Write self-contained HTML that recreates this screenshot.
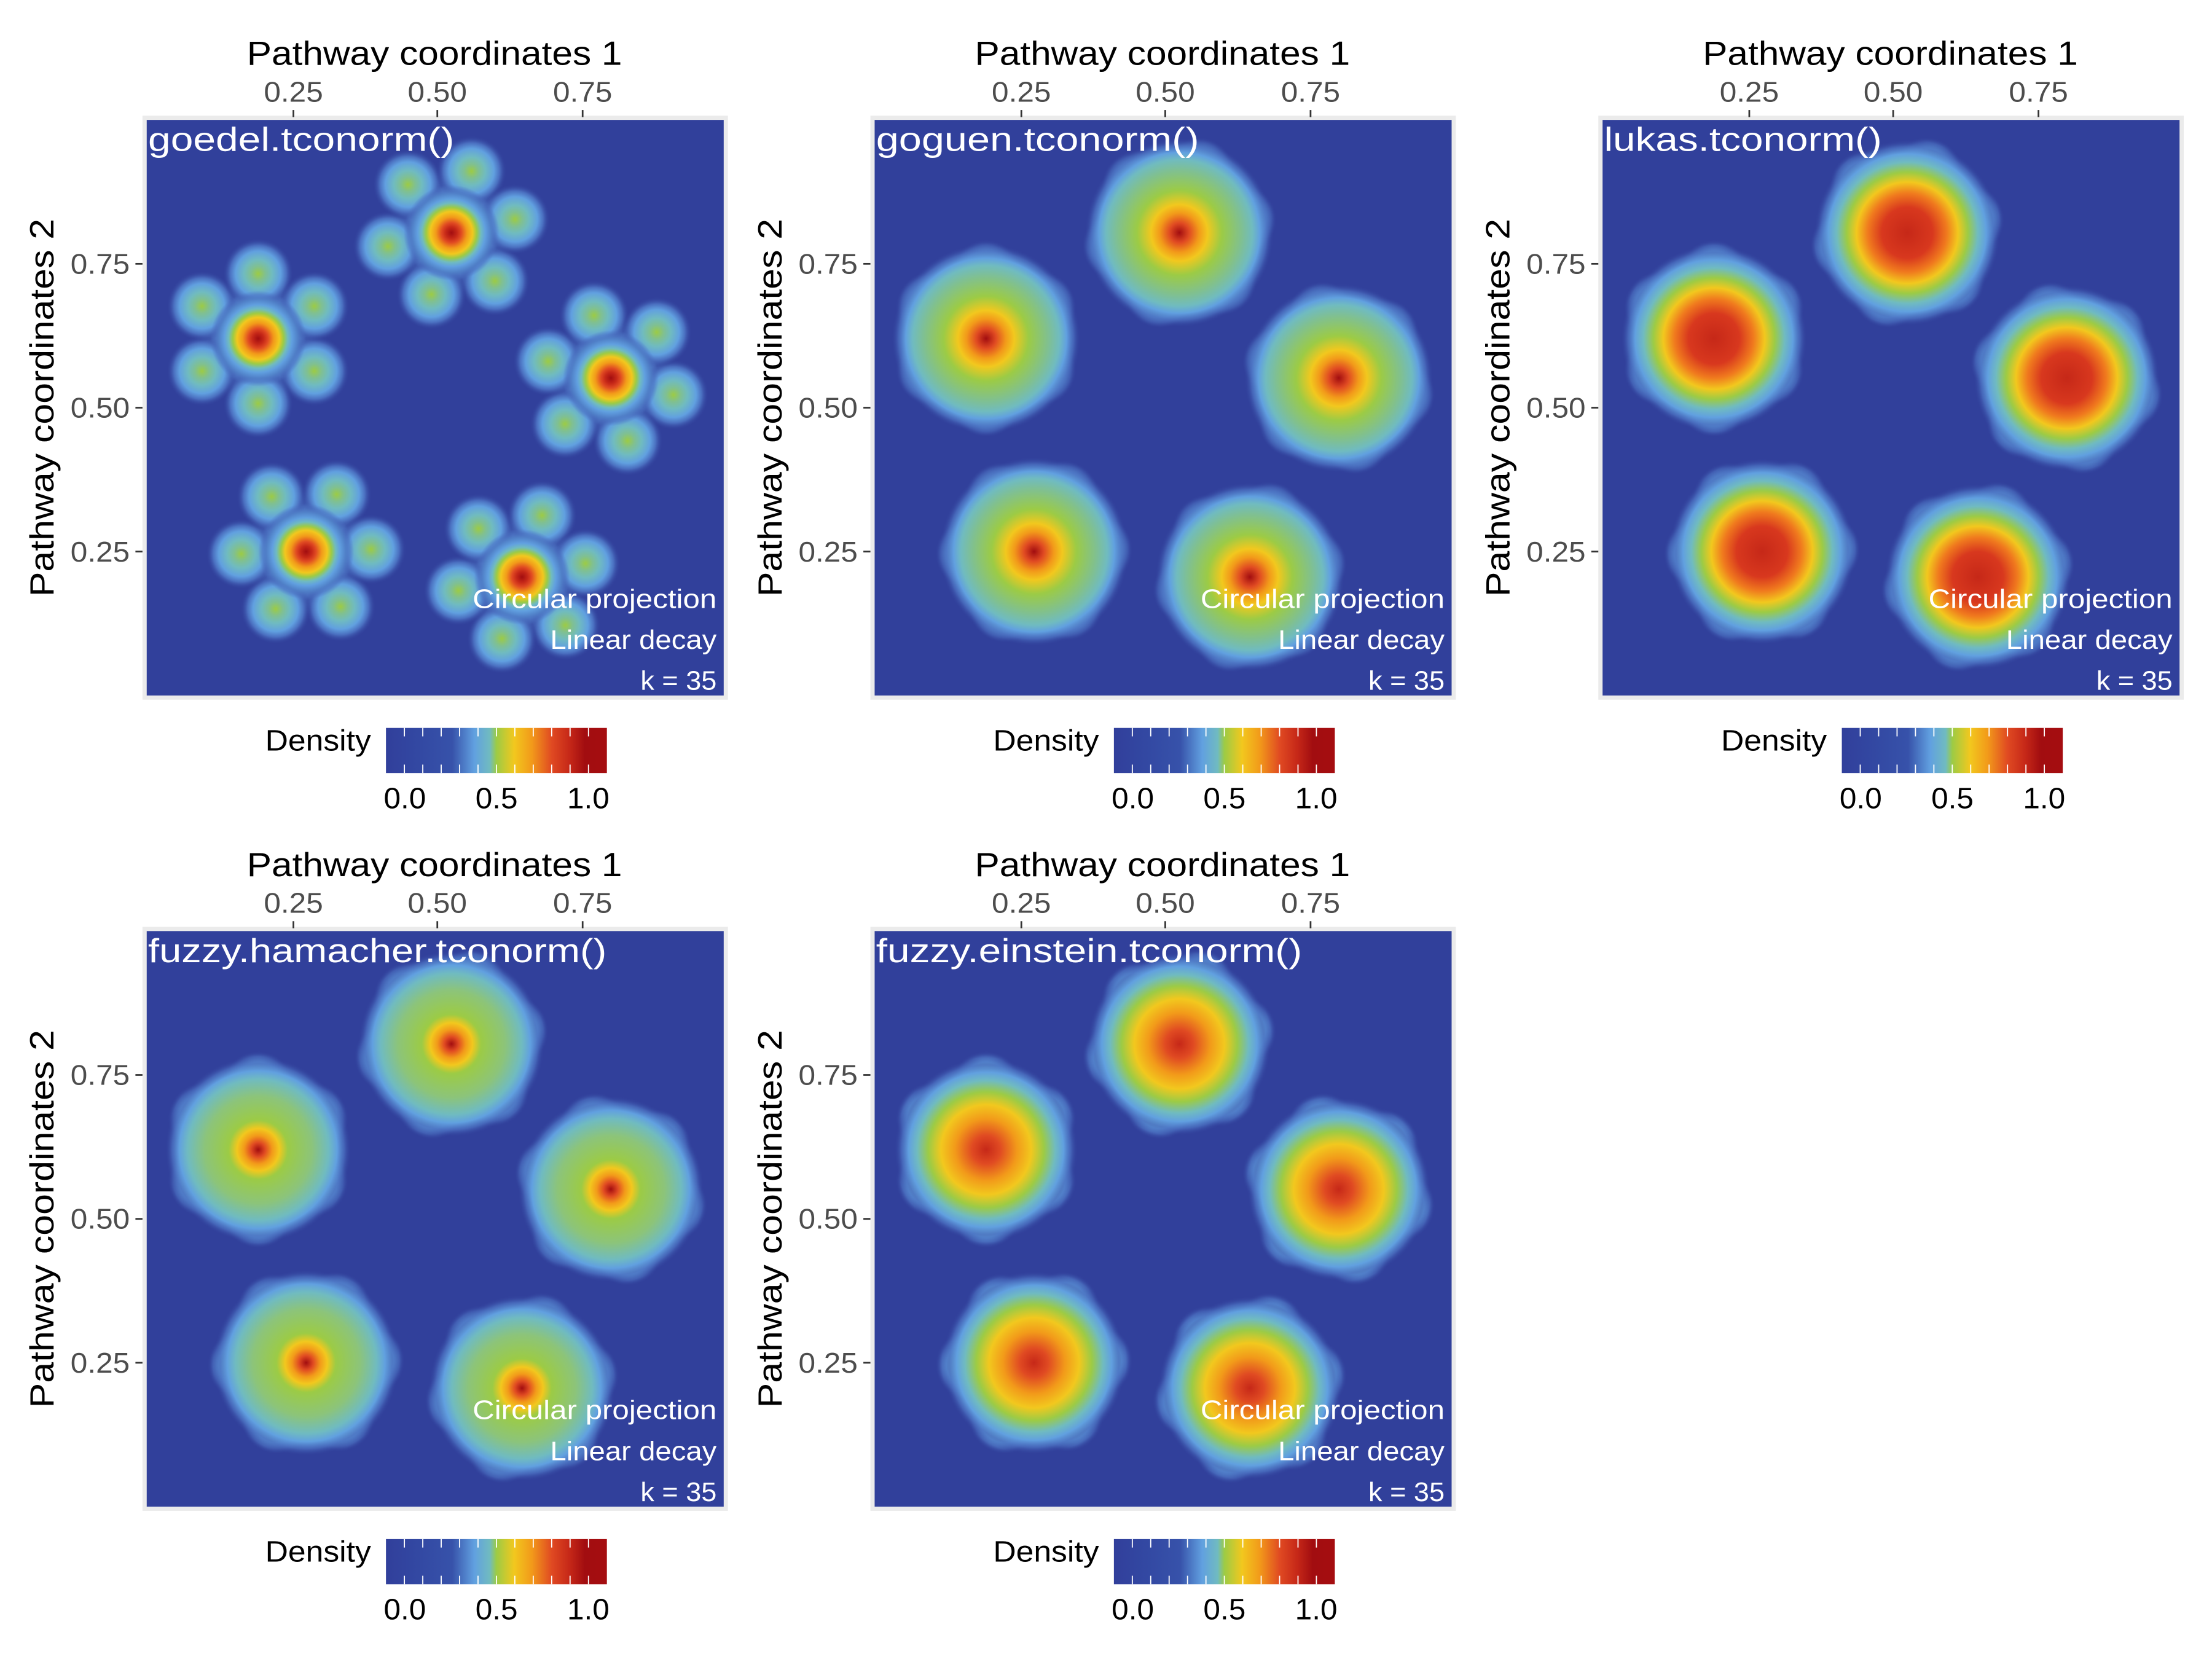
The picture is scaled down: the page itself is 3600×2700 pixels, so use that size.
<!DOCTYPE html><html><head><meta charset="utf-8"><style>html,body{margin:0;padding:0;background:#fff}svg{display:block}text{font-family:"Liberation Sans",sans-serif}</style></head><body>
<svg id="s" xmlns="http://www.w3.org/2000/svg" width="3600" height="2700" viewBox="0 0 1568 1176"></svg>
<script>
const S=document.getElementById('s');let h='';
const BG='#31409B';
const grads={
goedel:[[0,'#A20D10'],[4,'#C62818'],[7,'#E04A22'],[11,'#F29A1A'],[15,'#F2C81E'],[18,'#9CCB45'],[21,'#70BBC0'],[24,'#61A0E0'],[28,'#5080C8'],[31,'#4A70C0',0.6],[34,'#4A70C0',0]],
halo:[[0,'#4A6FC0'],[30,'#4A6FC0'],[38,'#3E5CB0',0.7],[46,BG,0]],
goguen:[[0,'#A20D10'],[7,'#E04A22'],[14,'#F29A1A'],[20,'#F2C81E'],[30,'#9CCB45'],[44,'#80C090'],[52,'#70BBC0'],[57,'#61A0E0'],[62,'#4A6FC0',0.8],[67,BG,0]],
lukas:[[0,'#C62818'],[18,'#D8381E'],[28,'#F07A1E'],[36,'#F2C81E'],[43,'#9CCB45'],[50,'#70BBC0'],[56,'#61A0E0'],[61,'#4A6FC0',0.8],[66,BG,0]],
ham:[[0,'#A20D10'],[5,'#E04A22'],[10,'#F29A1A'],[15,'#F2C81E'],[21,'#9CCB45'],[38,'#8CC47A'],[50,'#70BBC0'],[56,'#61A0E0'],[61,'#4A6FC0',0.8],[66,BG,0]],
ein:[[0,'#C62818'],[10,'#E04A22'],[22,'#F29A1A'],[32,'#F2C81E'],[41,'#9CCB45'],[49,'#70BBC0'],[55,'#61A0E0'],[60,'#4A6FC0',0.8],[65,BG,0]],
sat:[[0,'#9CCB45'],[5,'#80C090'],[10,'#70BBC0'],[16,'#61A0E0'],[20,'#4A6FC0'],[25,BG,0]],
sat2:[[0,'#9CCB45'],[8,'#80C090'],[13,'#70BBC0'],[18,'#61A0E0'],[22,'#4A6FC0',0.7],[26,BG,0]]
};
let defs='<defs>';
for(const k in grads){const g=grads[k];const R=g[g.length-1][0];
defs+=`<radialGradient id="g_${k}" cx="0.5" cy="0.5" r="0.5">`+g.map(s=>`<stop offset="${(s[0]/R).toFixed(3)}" stop-color="${s[1]}" stop-opacity="${s[2]===undefined?1:s[2]}"/>`).join('')+'</radialGradient>';}
defs+=`<linearGradient id="cb" x1="0" x2="1"><stop offset="0" stop-color="#313F9B"/><stop offset="0.16" stop-color="#3349A3"/><stop offset="0.3" stop-color="#3752AA"/><stop offset="0.4" stop-color="#61A0E0"/><stop offset="0.47" stop-color="#70BBC0"/><stop offset="0.5" stop-color="#9CCB45"/><stop offset="0.58" stop-color="#F2C81E"/><stop offset="0.66" stop-color="#F29A1A"/><stop offset="0.75" stop-color="#E04A22"/><stop offset="0.83" stop-color="#C62818"/><stop offset="0.9" stop-color="#A20D10"/><stop offset="1" stop-color="#A50D10"/></linearGradient></defs>`;
h+=defs;
const TL=(w)=>`textLength="${w}" lengthAdjust="spacingAndGlyphs"`;
const blobs=[[183,240,30],[320,165,48],[433,268,15],[217,391,58],[370,409,48]];
const panels=[[0,0,'goedel','goedel.tconorm()',217],[516,0,'goguen','goguen.tconorm()',229],[1032,0,'lukas','lukas.tconorm()',197],[0,575,'ham','fuzzy.hamacher.tconorm()',325],[516,575,'ein','fuzzy.einstein.tconorm()',302]];
panels.forEach((p,i)=>{const [dx,dy,g,t,tw]=p;
h+=`<g transform="translate(${dx},${dy})">`;
h+=`<rect x="101" y="82" width="415" height="414" fill="#EBEBEB"/>`;
h+=`<clipPath id="c${i}"><rect x="104" y="85" width="409" height="408"/></clipPath>`;
h+=`<rect x="104" y="85" width="409" height="408" fill="${BG}"/><g clip-path="url(#c${i})">`;
const sat=g==='goedel'?'sat':'sat2';const sr=g==='goedel'?25:26;const ring=g==='goedel'?46:44;
blobs.forEach(b=>{
if(g==='goedel')h+=`<circle cx="${b[0]}" cy="${b[1]}" r="46" fill="url(#g_halo)"/>`;
for(let j=0;j<6;j++){const a=(b[2]+60*j)*Math.PI/180;const x=b[0]+ring*Math.cos(a),y=b[1]+ring*Math.sin(a);
h+=`<circle cx="${x.toFixed(1)}" cy="${y.toFixed(1)}" r="${sr}" fill="url(#g_${sat})"/>`;}
const R=grads[g][grads[g].length-1][0];h+=`<circle cx="${b[0]}" cy="${b[1]}" r="${R}" fill="url(#g_${g})"/>`;});
h+=`</g>`;
h+=`<text x="105" y="107" font-size="24" fill="#fff" ${TL(tw)}>${t}</text>`;
h+=`<g font-size="19" fill="#fff" text-anchor="end"><text x="508" y="431" ${TL(173)}>Circular projection</text><text x="508" y="460" ${TL(118)}>Linear decay</text><text x="508" y="489" ${TL(54)}>k = 35</text></g>`;
h+=`<text x="308" y="46" font-size="24" text-anchor="middle" ${TL(266)}>Pathway coordinates 1</text>`;
[[208,'0.25'],[310,'0.50'],[413,'0.75']].forEach(q=>{h+=`<line x1="${q[0]}" x2="${q[0]}" y1="78" y2="83" stroke="#333" stroke-width="1.2"/><text x="${q[0]}" y="72" font-size="20" fill="#4D4D4D" text-anchor="middle" ${TL(42)}>${q[1]}</text>`;});
[[187,'0.75'],[289,'0.50'],[391,'0.25']].forEach(q=>{h+=`<line x1="96" x2="101" y1="${q[0]}" y2="${q[0]}" stroke="#333" stroke-width="1.2"/><text x="92" y="${q[0]+7}" font-size="20" fill="#4D4D4D" text-anchor="end" ${TL(42)}>${q[1]}</text>`;});
h+=`<text transform="translate(38,289) rotate(-90)" font-size="24" text-anchor="middle" ${TL(268)}>Pathway coordinates 2</text>`;
h+=`<text x="263" y="532" font-size="21" text-anchor="end" ${TL(75)}>Density</text>`;
h+=`<rect x="273.6" y="516" width="156.6" height="32" fill="url(#cb)"/>`;
for(let k=1;k<12;k++){const x=273.6+13.05*k;h+=`<line x1="${x}" x2="${x}" y1="516" y2="522" stroke="#fff" stroke-width="0.8"/><line x1="${x}" x2="${x}" y1="542" y2="548" stroke="#fff" stroke-width="0.8"/>`;}
[[287,'0.0'],[352,'0.5'],[417,'1.0']].forEach(q=>{h+=`<text x="${q[0]}" y="573" font-size="21" text-anchor="middle" ${TL(30)}>${q[1]}</text>`;});
h+='</g>';});
S.innerHTML=h;
</script></body></html>
